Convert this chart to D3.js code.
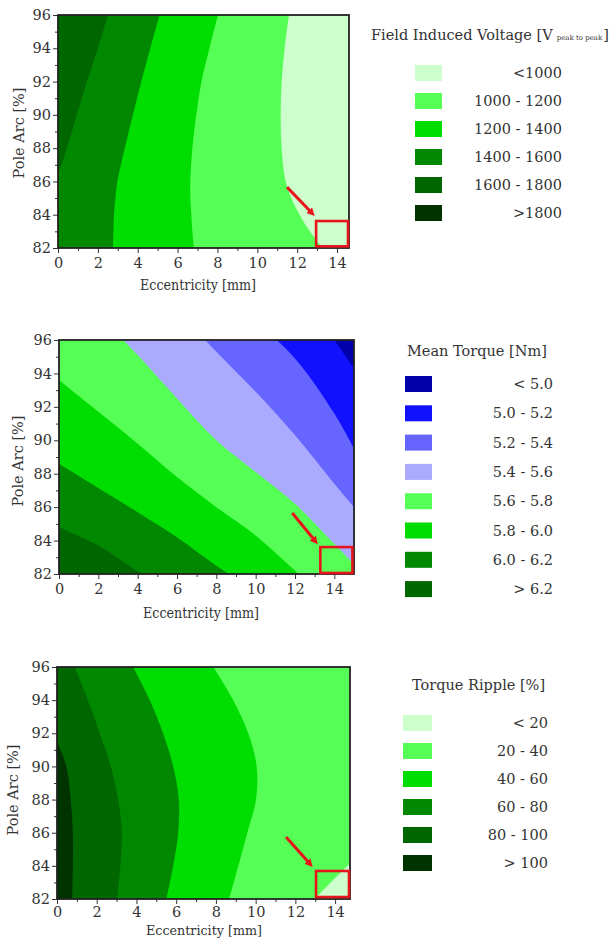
<!DOCTYPE html>
<html><head><meta charset="utf-8">
<script src="https://cdn.jsdelivr.net/npm/d3@7/dist/d3.min.js"></script>
<style>
body{margin:0;background:#fff;}
svg text{font-family:"DejaVu Serif",serif;fill:#333;}
</style></head><body>
<svg id="chart" width="611" height="939"></svg>
<script>
// ---------------- data ----------------
const poleArcTicks = [82,84,86,88,90,92,94,96];
const poleArcMinor = [83,85,87,89,91,93,95];
const eccTicks = [0,2,4,6,8,10,12,14];
const eccMinor = [1,3,5,7,9,11,13];

// Panel 1: Field induced voltage. Isolines: eccentricity [mm] at each pole arc level
const voltPoleArc = [82,83,84,85,86,88,90,92,94,96];
const voltIso1600 = [-1.12,-0.87,-0.62,-0.37,-0.12,0.45,0.95,1.45,2.0,2.51];
const voltIso1400 = [2.76,2.78,2.81,2.88,2.98,3.35,3.76,4.18,4.63,5.1];
const voltIso1200 = [6.82,6.74,6.69,6.64,6.64,6.74,6.94,7.2,7.6,8.03];
const voltIso1000 = [13.26,12.63,12.12,11.7,11.42,11.22,11.17,11.22,11.37,11.59];
const voltLabels = ["<1000","1000 - 1200","1200 - 1400","1400 - 1600","1600 - 1800",">1800"];

// Panel 2: Mean torque. Isolines: pole arc [%] at each eccentricity level
const torqueEcc = [0,2,4,6,8,10,12,14,15];
const torqueIso62 = [84.8,83.7,82.15,80.8,79.4,78.0,76.6,75.2,74.5];
const torqueIso60 = [88.6,87.15,85.7,84.2,82.5,81.0,79.4,77.8,77.0];
const torqueIso58 = [93.6,91.7,89.8,87.8,86.0,84.3,82.2,80.2,79.2];
const torqueIso56 = [99.8,97.5,95.1,92.5,90.0,88.1,86.2,83.8,82.6];
const torqueIso54 = [105,102.6,100.2,97.8,95.3,92.9,90.3,87.4,86.0];
const torqueIso52 = [107,105,103,101,99.1,97.1,94.9,91.6,89.5];
const torqueIso50 = [112,110,108,106,104,102,99.2,96.0,94.3];
const torqueLabels = ["< 5.0","5.0 - 5.2","5.2 - 5.4","5.4 - 5.6","5.6 - 5.8","5.8 - 6.0","6.0 - 6.2","> 6.2"];

// Panel 3: Torque ripple. Isolines: eccentricity [mm] at each pole arc level
const ripplePoleArc = [82,84,86,88,90,92,94,96];
const rippleIso100 = [0.77,0.8,0.8,0.69,0.47,-0.15,-0.6,-1.1];
const rippleIso80 = [3.03,3.19,3.26,3.08,2.71,2.15,1.56,0.89];
const rippleIso60 = [5.51,5.85,6.1,6.13,5.85,5.34,4.67,3.83];
const rippleIso40 = [8.67,9.13,9.58,10.02,10.05,9.63,8.87,7.87];
const rippleIso20 = [12.96,14.62,16.3,18.0,19.6,21.3,23.0,24.6];
const rippleLabels = ["< 20","20 - 40","40 - 60","60 - 80","80 - 100","> 100"];

// Annotations (data units): box [x0,x1,y0,y1], arrow [x0,y0,x1,y1]
const box1 = [12.95,14.55,82.1,83.62], arrow1 = [11.49,85.66,12.74,84.1];
const box2 = [13.29,14.92,82.06,83.61], arrow2 = [11.86,85.65,13.03,83.97];
const box3 = [13.04,14.7,82.12,83.69], arrow3 = [11.53,85.74,12.74,84.11];

// ---------------- styles ----------------
const greens = ["#ccffcc","#55ff55","#00dd00","#008800","#006600","#003300"];
const torqueColors = ["#0000aa","#1111ff","#6666ff","#aaaaff","#55ff55","#00dd00","#008800","#006600"];
const red = "#e8141c";

const svg = d3.select("#chart");
const defs = svg.append("defs");
defs.append("marker").attr("id","arr").attr("viewBox","0 0 10 10")
  .attr("refX",5).attr("refY",5).attr("markerWidth",8).attr("markerHeight",8)
  .attr("markerUnits","userSpaceOnUse").attr("orient","auto")
  .append("path").attr("d","M0,0 L10,5 L0,10 z").attr("fill",red);

function panel(cfg){
  const {id,left,top,w,h,xmax} = cfg;
  const x = d3.scaleLinear().domain([0,xmax]).range([0,w]);
  const y = d3.scaleLinear().domain([82,96]).range([h,0]);
  const g = svg.append("g").attr("transform",`translate(${left},${top})`);
  defs.append("clipPath").attr("id","clip"+id).append("rect").attr("width",w).attr("height",h);
  const body = g.append("g").attr("clip-path",`url(#clip${id})`);
  body.append("rect").attr("width",w).attr("height",h).attr("fill",cfg.base);
  cfg.isos.forEach((iso,k)=>{
    let area;
    if(cfg.mode==="xOfY"){
      area = d3.area().curve(d3.curveCatmullRom.alpha(0.5))
        .y((d,i)=>y(cfg.levels[i])).x0(d=>x(d)).x1(w+40);
    } else {
      area = d3.area().curve(d3.curveCatmullRom.alpha(0.5))
        .x((d,i)=>x(cfg.levels[i])).y0(d=>y(d)).y1(-40);
    }
    body.append("path").attr("d",area(iso)).attr("fill",cfg.fills[k]);
  });
  // axes
  const styleAxis = s=>{s.select(".domain").remove();s.selectAll("line").attr("stroke","#333");
    s.selectAll("text").attr("font-size",14.5).attr("font-family","DejaVu Serif").attr("fill","#333");};
  g.append("g").attr("transform",`translate(0,${h})`)
    .call(d3.axisBottom(x).tickValues(eccTicks).tickSize(5).tickPadding(cfg.xpad).tickFormat(d3.format("d"))).call(styleAxis);
  g.append("g").attr("transform",`translate(0,${h})`)
    .call(d3.axisBottom(x).tickValues(eccMinor).tickSize(3).tickFormat("")).call(styleAxis);
  g.append("g").call(d3.axisLeft(y).tickValues(poleArcTicks).tickSize(5).tickPadding(2).tickFormat(d3.format("d"))).call(styleAxis);
  g.append("g").call(d3.axisLeft(y).tickValues(poleArcMinor).tickSize(3).tickFormat("")).call(styleAxis);
  g.append("rect").attr("width",w).attr("height",h).attr("fill","none").attr("stroke","#222").attr("stroke-width",1.8);
  // annotations
  const b = cfg.box, a = cfg.arrow;
  g.append("rect").attr("x",x(b[0])).attr("y",y(b[3])).attr("width",x(b[1])-x(b[0])).attr("height",y(b[2])-y(b[3]))
    .attr("fill","none").attr("stroke",red).attr("stroke-width",2.6);
  g.append("line").attr("x1",x(a[0])).attr("y1",y(a[1])).attr("x2",x(a[2])).attr("y2",y(a[3]))
    .attr("stroke",red).attr("stroke-width",3).attr("marker-end","url(#arr)");
  // axis titles
  svg.append("text").attr("x",cfg.xt[0]).attr("y",cfg.xt[1]).attr("text-anchor","middle")
    .attr("font-size",cfg.xfs).attr("textLength",116).attr("lengthAdjust","spacingAndGlyphs").text("Eccentricity [mm]");
  svg.append("text").attr("transform",`translate(${cfg.yt[0]},${cfg.yt[1]}) rotate(-90)`).attr("text-anchor","middle")
    .attr("font-size",14.5).text("Pole Arc [%]");
}

function legend(cfg){
  const t = svg.append("text").attr("x",cfg.tx).attr("y",cfg.ty).attr("font-size",14.5);
  cfg.title(t);
  cfg.labels.forEach((lab,i)=>{
    const cy = cfg.y0 + i*cfg.step;
    svg.append("rect").attr("x",cfg.sx).attr("y",cy-8).attr("width",cfg.sw).attr("height",16)
      .attr("fill",cfg.colors[i]);
    svg.append("text").attr("x",cfg.lx).attr("y",cy+5).attr("text-anchor","end").attr("font-size",14.5).text(lab);
  });
}

panel({id:1,left:58,top:15,w:291,h:233,xmax:14.6,mode:"xOfY",levels:voltPoleArc,
  base:greens[4],isos:[voltIso1600,voltIso1400,voltIso1200,voltIso1000],fills:[greens[3],greens[2],greens[1],greens[0]],
  xpad:5,box:box1,arrow:arrow1,xt:[198,290],xfs:14,yt:[24,133]});
panel({id:2,left:59,top:340,w:295,h:234,xmax:15,mode:"yOfX",levels:torqueEcc,
  base:torqueColors[7],isos:[torqueIso62,torqueIso60,torqueIso58,torqueIso56,torqueIso54,torqueIso52,torqueIso50],
  fills:[torqueColors[6],torqueColors[5],torqueColors[4],torqueColors[3],torqueColors[2],torqueColors[1],torqueColors[0]],
  xpad:5,box:box2,arrow:arrow2,xt:[201,618],xfs:14,yt:[23,461]});
panel({id:3,left:57,top:667,w:293,h:232,xmax:14.75,mode:"xOfY",levels:ripplePoleArc,
  base:greens[5],isos:[rippleIso100,rippleIso80,rippleIso60,rippleIso40,rippleIso20],
  fills:[greens[4],greens[3],greens[2],greens[1],greens[0]],
  xpad:3,box:box3,arrow:arrow3,xt:[204,935],xfs:13,yt:[18,790]});

legend({tx:371,ty:40,title:t=>{t.append("tspan").text("Field Induced Voltage [V");
    t.append("tspan").attr("font-size",7).attr("dx",4).text("peak to peak");
    t.append("tspan").attr("dx",1).text("]");},
  labels:voltLabels,colors:greens,sx:415,sw:27,y0:73,step:28,lx:562});
legend({tx:407,ty:356,title:t=>t.text("Mean Torque [Nm]"),
  labels:torqueLabels,colors:torqueColors,sx:405,sw:27,y0:384,step:29.3,lx:553});
legend({tx:412,ty:690,title:t=>t.text("Torque Ripple [%]"),
  labels:rippleLabels,colors:greens,sx:403,sw:29,y0:723,step:28,lx:548});
</script></body></html>
